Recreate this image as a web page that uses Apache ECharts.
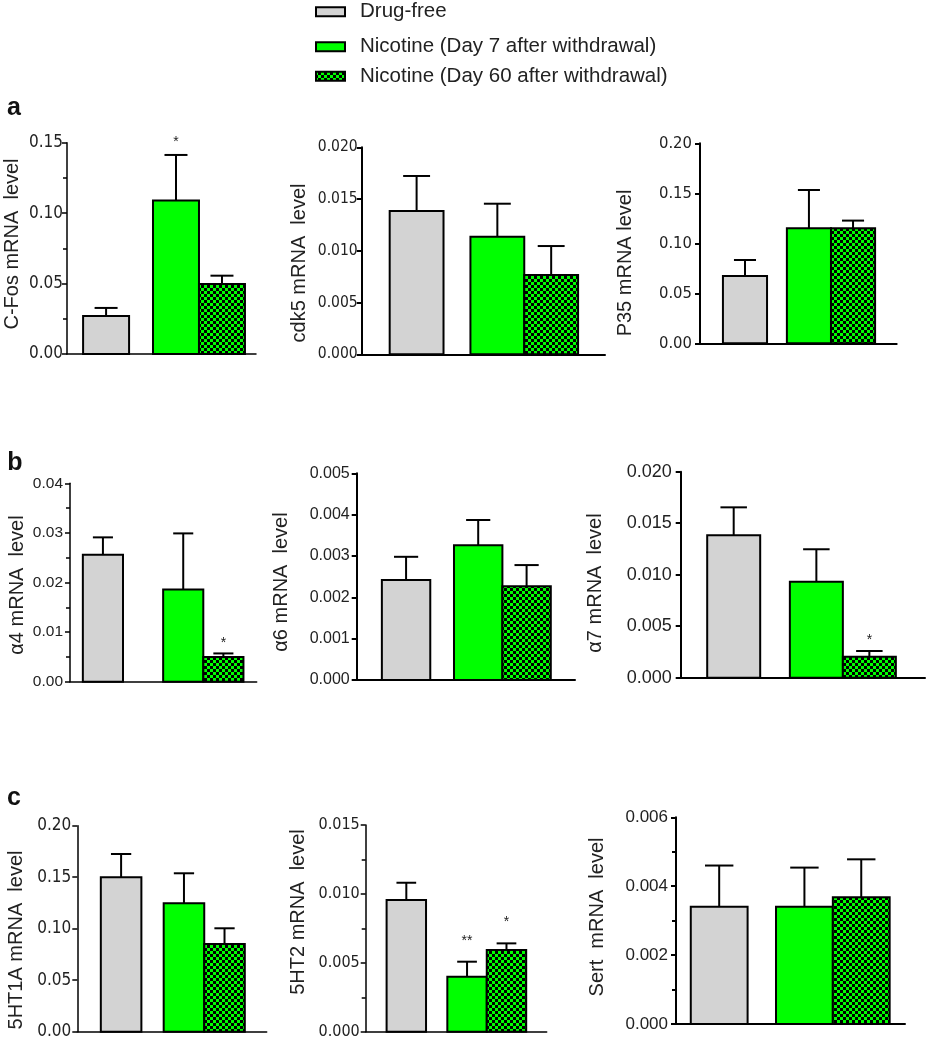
<!DOCTYPE html>
<html>
<head>
<meta charset="utf-8">
<script src="https://cdn.jsdelivr.net/npm/echarts@6/dist/echarts.min.js"></script>
<style>
html,body{margin:0;padding:0;background:#fff;}
#chart{width:933px;height:1050px;}
</style>
</head>
<body>
<div id="chart"></div>
<script>
// ---------- DATA ----------
const groups = ['Drug-free', 'Nicotine (Day 7 after withdrawal)', 'Nicotine (Day 60 after withdrawal)'];

const cfosMean = [0.0270, 0.1089, 0.0497];
const cfosSem  = [0.0057, 0.0324, 0.0059];
const cfosSig  = ['', '*', ''];

const cdk5Mean = [0.01385, 0.01136, 0.00766];
const cdk5Sem  = [0.00338, 0.00319, 0.00280];
const cdk5Sig  = ['', '', ''];

const p35Mean = [0.0673, 0.1150, 0.1150];
const p35Sem  = [0.0160, 0.0383, 0.0077];
const p35Sig  = ['', '', ''];

const a4Mean = [0.0256, 0.0186, 0.0050];
const a4Sem  = [0.0035, 0.0113, 0.0007];
const a4Sig  = ['', '', '*'];

const a6Mean = [0.00242, 0.00326, 0.00227];
const a6Sem  = [0.00056, 0.00061, 0.00051];
const a6Sig  = ['', '', ''];

const a7Mean = [0.01383, 0.00932, 0.00204];
const a7Sem  = [0.00271, 0.00315, 0.00055];
const a7Sig  = ['', '', '*'];

const ht1aMean = [0.1499, 0.1247, 0.0851];
const ht1aSem  = [0.0226, 0.0291, 0.0153];
const ht1aSig  = ['', '', ''];

const ht2Mean = [0.00956, 0.00399, 0.00593];
const ht2Sem  = [0.00125, 0.00109, 0.00048];
const ht2Sig  = ['', '**', '*'];

const sertMean = [0.00340, 0.00340, 0.00368];
const sertSem  = [0.00120, 0.00114, 0.00110];
const sertSig  = ['', '', ''];

const yNames = ['C-Fos mRNA  level', 'cdk5 mRNA  level', 'P35 mRNA level',
                'α4 mRNA  level', 'α6 mRNA  level', 'α7 mRNA  level',
                '5HT1A mRNA  level', '5HT2 mRNA  level', 'Sert  mRNA  level'];
const yMax = [0.15, 0.02, 0.20, 0.04, 0.005, 0.02, 0.20, 0.015, 0.006];
const yStep = [0.05, 0.005, 0.05, 0.01, 0.001, 0.005, 0.05, 0.005, 0.002];
const yDecimals = [2, 3, 2, 2, 3, 3, 2, 3, 3];
const panelLetters = ['a', 'b', 'c'];

// ---------- STYLE / LAYOUT ----------
const GREY = '#d3d3d3', GREEN = '#00ff00';
const NARROW = "'Liberation Sans Narrow', 'DejaVu Sans Condensed', 'Liberation Sans', Arial, sans-serif";
const SANS = "'Liberation Sans', Arial, sans-serif";

function makePattern() {
  const c = document.createElement('canvas');
  c.width = 6; c.height = 6;
  const g = c.getContext('2d');
  g.fillStyle = GREEN; g.fillRect(0, 0, 6, 6);
  g.fillStyle = '#000';
  g.fillRect(0, 0, 3, 3); g.fillRect(3, 3, 3, 3);
  return { image: c, repeat: 'repeat' };
}
const checker = makePattern();
const fills = [GREY, GREEN, checker];

const panels = [
  {mean: cfosMean, sem: cfosSem, sig: cfosSig, grid: [67, 142.7, 189, 211.3], gaps: [0.35, 0.52, 0.24], font: NARROW, fs: 17, margin: 4, minor: true, lw: 1.5, name: [12, 244], starGap: 13},
  {mean: cdk5Mean, sem: cdk5Sem, sig: cdk5Sig, grid: [361.7, 147.3, 243.3, 207], gaps: [0.52, 0.5, 0.5], font: NARROW, fs: 15.5, margin: 4, minor: false, lw: 2, name: [299, 263], starGap: 12},
  {mean: p35Mean, sem: p35Sem, sig: p35Sig, grid: [700, 143.3, 196.7, 200], gaps: [0.52, 0.45, 0.49], font: NARROW, fs: 16.5, margin: 8, minor: false, lw: 2, name: [625, 263], starGap: 12},
  {mean: a4Mean, sem: a4Sem, sig: a4Sig, grid: [70, 483.3, 186.7, 198.4], gaps: [0.32, 1.0, 0.33], font: SANS, fs: 15.5, margin: 7, minor: true, lw: 1.5, name: [17, 585], starGap: 10},
  {mean: a6Mean, sem: a6Sem, sig: a6Sig, grid: [356.7, 473.3, 218.3, 206.7], gaps: [0.52, 0.49, 0.5], font: SANS, fs: 16, margin: 7, minor: false, lw: 2, name: [281, 582], starGap: 10},
  {mean: a7Mean, sem: a7Sem, sig: a7Sig, grid: [680.7, 471.7, 244.3, 206], gaps: [0.5, 0.56, 0.55], font: SANS, fs: 18, margin: 9, minor: false, lw: 2, name: [595, 583], starGap: 11},
  {mean: ht1aMean, sem: ht1aSem, sig: ht1aSig, grid: [77.3, 825.7, 189.4, 206], gaps: [0.58, 0.55, 0.54], font: NARROW, fs: 17, margin: 6, minor: false, lw: 1.5, name: [16, 940], starGap: 12},
  {mean: ht2Mean, sem: ht2Sem, sig: ht2Sig, grid: [365.7, 825, 181, 206.7], gaps: [0.53, 0.54, 0.52], font: NARROW, fs: 16, margin: 6, minor: true, lw: 1.5, name: [298, 912], starGap: 21},
  {mean: sertMean, sem: sertSem, sig: sertSig, grid: [676, 817.3, 229, 206.7], gaps: [0.26, 0.5, 0.27], font: SANS, fs: 17, margin: 8, minor: true, lw: 2, name: [597, 917], starGap: 12}
];

const grids = [], xAxes = [], yAxes = [], series = [], graphics = [];

panels.forEach((p, k) => {
  grids.push({left: p.grid[0], top: p.grid[1], width: p.grid[2], height: p.grid[3], containLabel: false, outerBoundsMode: 'none'});
  xAxes.push({
    type: 'category', gridIndex: k, data: groups, boundaryGap: true,
    axisLine: {show: true, onZero: false, lineStyle: {color: '#000', width: p.lw}},
    axisTick: {show: false}, axisLabel: {show: false}, splitLine: {show: false}
  });
  const dec = yDecimals[k];
  yAxes.push({
    type: 'value', gridIndex: k, min: 0, max: yMax[k], interval: yStep[k],
    axisLine: {show: true, lineStyle: {color: '#000', width: p.lw}},
    axisTick: {show: true, length: 5, lineStyle: {color: '#000', width: p.lw}},
    minorTick: {show: p.minor, splitNumber: 2, length: 4, lineStyle: {color: '#000', width: p.lw}},
    splitLine: {show: false},
    axisLabel: {color: '#222', fontFamily: p.font, fontSize: p.fs, margin: p.margin,
      formatter: v => v.toFixed(dec)}
  });
  const [g0, g1, g2] = p.gaps;
  groups.forEach((gname, i) => {
    series.push({
      type: 'custom', name: gname, xAxisIndex: k, yAxisIndex: k,
      coordinateSystem: 'cartesian2d', clip: false, silent: true,
      encode: {x: 0, y: 1},
      data: [[i, p.mean[i], p.sem[i]]],
      renderItem: function (params, api) {
        const idx = api.value(0);
        const mean = api.value(1), sem = api.value(2);
        const band = api.size([1, 0])[0];
        const x0 = api.coord([0, 0])[0] - band / 2;
        const W = band * 3;
        const bw = W / (g0 + g1 + g2 + 3);
        const left = x0 + (g0 + idx + (idx >= 1 ? g1 : 0)) * bw;
        const cx = left + bw / 2;
        const base = api.coord([idx, 0])[1];
        const top = api.coord([idx, mean])[1];
        const errTop = api.coord([idx, mean + sem])[1];
        const cap = bw * 0.5;
        const children = [
          {type: 'rect', shape: {x: left, y: top, width: bw, height: base - top},
           style: {fill: fills[idx], stroke: '#000', lineWidth: 2}},
          {type: 'line', shape: {x1: cx, y1: top, x2: cx, y2: errTop},
           style: {stroke: '#000', lineWidth: 2}},
          {type: 'line', shape: {x1: cx - cap / 2, y1: errTop, x2: cx + cap / 2, y2: errTop},
           style: {stroke: '#000', lineWidth: 2}}
        ];
        const s = p.sig[idx];
        if (s) {
          children.push({type: 'text', x: cx, y: errTop - p.starGap,
            style: {text: s, fill: '#222', font: '14px ' + SANS, align: 'center', verticalAlign: 'middle'}});
        }
        return {type: 'group', children: children};
      }
    });
  });
  graphics.push({type: 'text', x: p.name[0], y: p.name[1], rotation: Math.PI / 2,
    style: {text: yNames[k], fill: '#222', font: '20px ' + SANS, align: 'center', verticalAlign: 'middle'}});
});

// panel letters
[[14, 108], [15, 463], [14, 798]].forEach((pos, i) => {
  graphics.push({type: 'text', x: pos[0], y: pos[1],
    style: {text: panelLetters[i], fill: '#111', font: 'bold 25px ' + SANS, align: 'center', verticalAlign: 'middle'}});
});

// legend
[11.7, 46.7, 76.2].forEach((yc, i) => {
  graphics.push({type: 'rect', shape: {x: 316, y: yc - 4.5, width: 29, height: 9},
    style: {fill: fills[i], stroke: '#000', lineWidth: 2}});
  graphics.push({type: 'text', x: 360, y: yc,
    style: {text: groups[i], fill: '#222', font: '20.5px ' + SANS, align: 'left', verticalAlign: 'middle'}});
});

const chart = echarts.init(document.getElementById('chart'), null, {renderer: 'canvas'});
chart.setOption({
  animation: false,
  backgroundColor: '#fff',
  grid: grids, xAxis: xAxes, yAxis: yAxes, series: series,
  graphic: graphics
});
</script>
</body>
</html>
